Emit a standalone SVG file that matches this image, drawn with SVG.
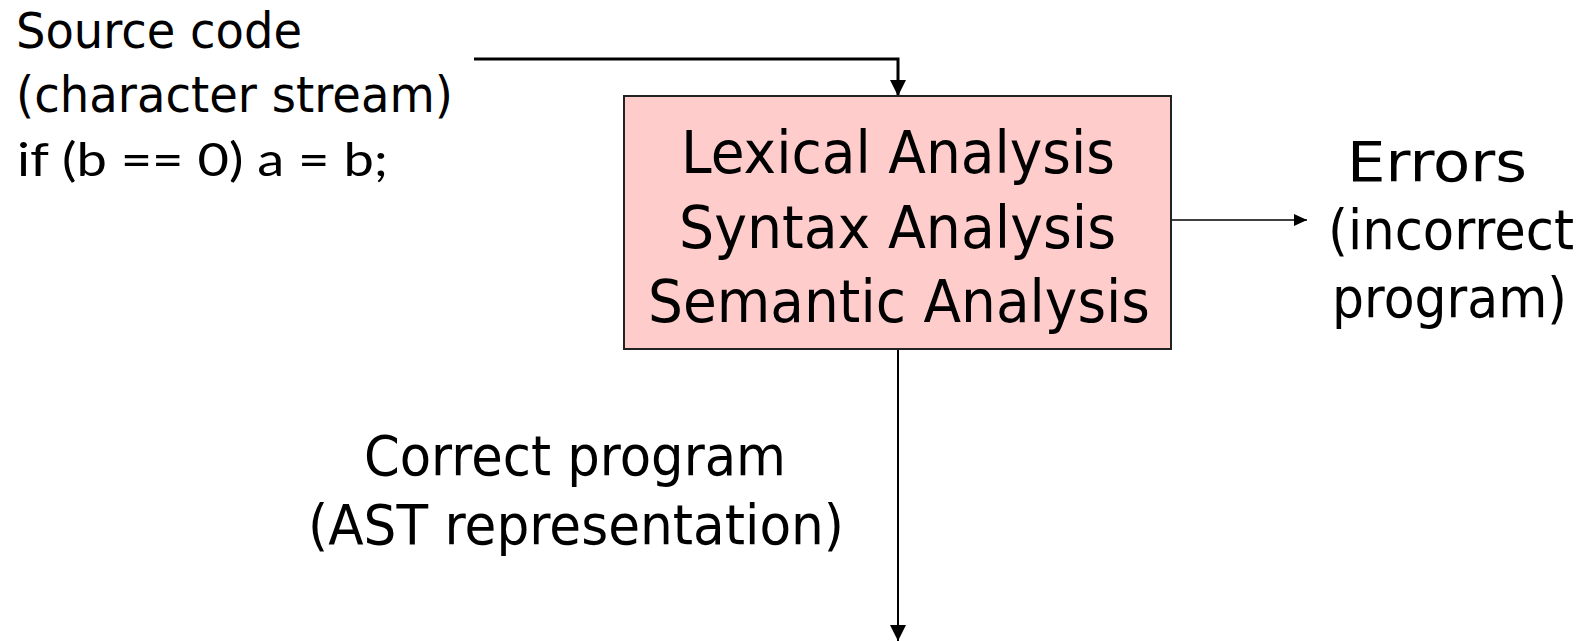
<svg xmlns="http://www.w3.org/2000/svg" width="1594" height="641" viewBox="0 0 1594 641">
  <style>
    .t { font-family: "DejaVu Sans", Verdana, sans-serif; fill: #000; }
    .big { font-size: 59px; }
    .mid { font-size: 55px; }
    .sm { font-size: 49px; }
    .code { font-family: Lato, "Liberation Sans", sans-serif; font-size: 47px; fill: #000; }
    .conn { fill: none; stroke: #000; }
  </style>
  <defs>
    <marker id="arrowL" markerUnits="userSpaceOnUse" markerWidth="16" markerHeight="16" refX="16" refY="8" orient="auto" viewBox="0 0 16 16">
      <path d="M0,0 L16,8 L0,16 z" fill="#000"/>
    </marker>
    <marker id="arrowS" markerUnits="userSpaceOnUse" markerWidth="13" markerHeight="12" refX="13" refY="6" orient="auto" viewBox="0 0 13 12">
      <path d="M0,0 L13,6 L0,12 z" fill="#000"/>
    </marker>
  </defs>
  <rect width="1594" height="641" fill="#fff"/>

  <g id="connectors">
    <polyline class="conn" points="474,59 898,59 898,96" stroke-width="3" marker-end="url(#arrowL)"/>
    <line class="conn" x1="1171" y1="220" x2="1307" y2="220" stroke-width="1.6" marker-end="url(#arrowS)"/>
    <line class="conn" x1="898" y1="349" x2="898" y2="641" stroke-width="2" marker-end="url(#arrowL)"/>
  </g>

  <g id="source">
    <text class="t sm" x="16" y="48" textLength="286" lengthAdjust="spacingAndGlyphs">Source code</text>
    <text class="t sm" x="16" y="112" textLength="437" lengthAdjust="spacingAndGlyphs">(character stream)</text>
    <text class="code" x="17" y="176" textLength="371" lengthAdjust="spacingAndGlyphs">if (b == 0) a = b;</text>
  </g>

  <g id="analysis">
    <rect x="624" y="96" width="547" height="253" fill="#FFCCCC" stroke="#222" stroke-width="2"/>
    <text class="t big" x="681" y="173" textLength="434" lengthAdjust="spacingAndGlyphs">Lexical Analysis</text>
    <text class="t big" x="679" y="248" textLength="437" lengthAdjust="spacingAndGlyphs">Syntax Analysis</text>
    <text class="t big" x="648" y="322" textLength="502" lengthAdjust="spacingAndGlyphs">Semantic Analysis</text>
  </g>

  <g id="errors">
    <text class="t mid" x="1347" y="181" textLength="180" lengthAdjust="spacingAndGlyphs">Errors</text>
    <text class="t mid" x="1328" y="249" textLength="246" lengthAdjust="spacingAndGlyphs">(incorrect</text>
    <text class="t mid" x="1332" y="317" textLength="235" lengthAdjust="spacingAndGlyphs">program)</text>
  </g>

  <g id="output">
    <text class="t mid" x="364" y="475" textLength="422" lengthAdjust="spacingAndGlyphs">Correct program</text>
    <text class="t mid" x="308" y="544" textLength="536" lengthAdjust="spacingAndGlyphs">(AST representation)</text>
  </g>
</svg>
